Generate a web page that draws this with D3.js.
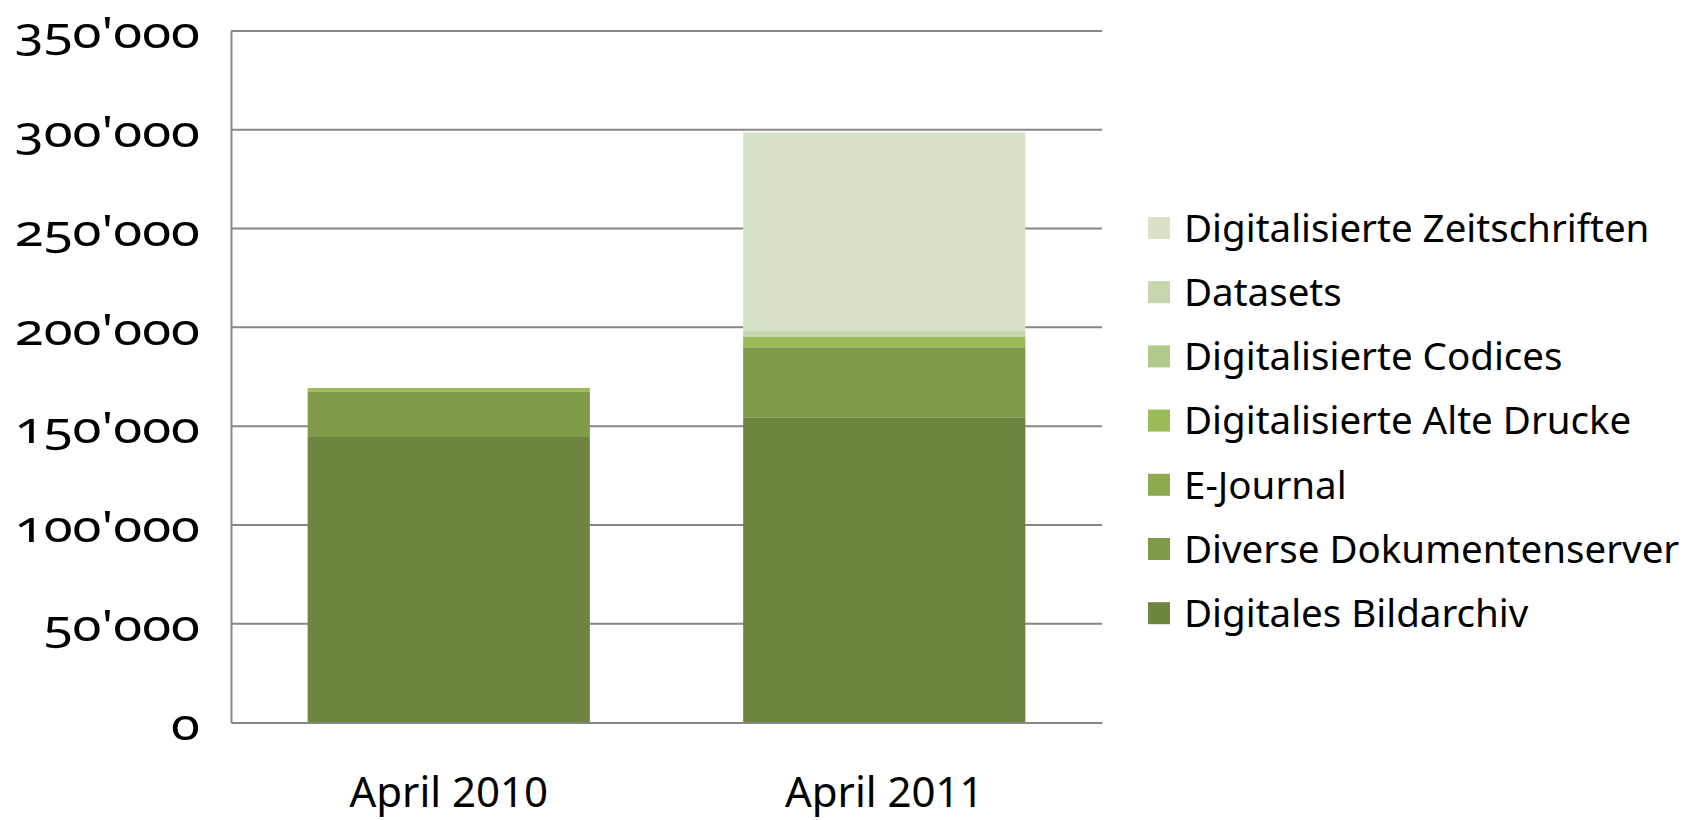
<!DOCTYPE html>
<html>
<head>
<meta charset="utf-8">
<script src="https://cdn.jsdelivr.net/npm/d3@7"></script>
<style>
  html, body { margin: 0; padding: 0; background: #fff; }
  svg text { font-family: "Noto Sans", "Open Sans", sans-serif; fill: #000; }
  .tick-label { font-variant-numeric: oldstyle-nums; }
</style>
</head>
<body>
<div id="chart"></div>
<script>
// Bestand digitaler Objekte, April 2010 vs. April 2011

const categories = ['April 2010', 'April 2011'];

// stack order from bottom to top
const seriesNames = [
  'Digitales Bildarchiv',
  'Diverse Dokumentenserver',
  'E-Journal',
  'Digitalisierte Alte Drucke',
  'Digitalisierte Codices',
  'Datasets',
  'Digitalisierte Zeitschriften'
];

const bildarchiv    = [144500, 154200];
const diverse       = [23100, 35400];
const eJournal      = [0, 400];
const alteDrucke    = [1700, 5300];
const codices       = [0, 500];
const datasets      = [0, 2400];
const zeitschriften = [0, 100500];

const seriesValues = [bildarchiv, diverse, eJournal, alteDrucke, codices, datasets, zeitschriften];

const seriesColors = ['#6e8540', '#7f9a4a', '#8eaa50', '#9bbb59', '#b1c98d', '#c6d5ac', '#d8e2c6'];

const yTicks = [0, 50000, 100000, 150000, 200000, 250000, 300000, 350000];

function renderChart() {
  const width = 1692;
  const height = 820;
  const margin = { top: 31, right: 590, bottom: 97.5, left: 231 };
  const innerWidth = width - margin.left - margin.right;
  const innerHeight = height - margin.top - margin.bottom;

  const svg = d3.select('#chart').append('svg')
    .attr('width', width)
    .attr('height', height)
    .style('display', 'block');

  const rows = categories.map((c, i) => {
    const row = { category: c };
    seriesNames.forEach((s, k) => { row[s] = seriesValues[k][i]; });
    return row;
  });

  const stacked = d3.stack().keys(seriesNames)(rows);

  const x = d3.scaleBand()
    .domain(categories)
    .range([0, innerWidth])
    .paddingInner(0.352)
    .paddingOuter(0.176);

  const y = d3.scaleLinear()
    .domain([0, 350000])
    .range([innerHeight, 0]);

  const color = d3.scaleOrdinal().domain(seriesNames).range(seriesColors);

  const fmt = d3.formatLocale({ decimal: '.', thousands: "'", grouping: [3], currency: ['', ''] }).format(',d');

  const g = svg.append('g').attr('transform', `translate(${margin.left},${margin.top})`);

  // grid lines
  g.append('g')
    .selectAll('line')
    .data(yTicks.filter(d => d > 0))
    .enter()
    .append('line')
    .attr('x1', 0)
    .attr('x2', innerWidth)
    .attr('y1', d => y(d))
    .attr('y2', d => y(d))
    .attr('stroke', '#868686')
    .attr('stroke-width', 2);

  // bars
  g.selectAll('.layer')
    .data(stacked)
    .enter()
    .append('g')
    .attr('class', 'layer')
    .attr('fill', d => color(d.key))
    .selectAll('rect')
    .data(d => d)
    .enter()
    .append('rect')
    .attr('x', d => x(d.data.category))
    .attr('y', d => y(d[1]))
    .attr('width', x.bandwidth())
    .attr('height', d => y(d[0]) - y(d[1]));

  // axis lines
  const yAxis = g.append('g')
    .call(d3.axisLeft(y).tickValues(yTicks).tickSize(0).tickPadding(31).tickFormat(fmt));
  yAxis.select('.domain').attr('stroke', '#868686').attr('stroke-width', 2);
  yAxis.selectAll('text')
    .attr('class', 'tick-label')
    .style('font-size', '44px')
    .attr('dy', '0.38em')
    .each(function() {
      // the original face is wider than Noto Sans
      const len = this.getComputedTextLength();
      d3.select(this)
        .attr('textLength', len * 1.2)
        .attr('lengthAdjust', 'spacingAndGlyphs');
    });

  const xAxis = g.append('g')
    .attr('transform', `translate(0,${innerHeight})`)
    .call(d3.axisBottom(x).tickSize(0).tickPadding(55));
  xAxis.select('.domain').attr('stroke', '#868686').attr('stroke-width', 2);
  xAxis.selectAll('text')
    .style('font-size', '42px');

  // legend
  const legendItems = seriesNames.slice().reverse();
  const legend = svg.append('g').attr('transform', 'translate(1148,217)');
  const item = legend.selectAll('.item')
    .data(legendItems)
    .enter()
    .append('g')
    .attr('class', 'item')
    .attr('transform', (d, i) => `translate(0,${i * 64.2})`);

  item.append('rect')
    .attr('width', 22)
    .attr('height', 22)
    .attr('fill', d => color(d));

  item.append('text')
    .attr('x', 36)
    .attr('y', 11)
    .attr('dy', '0.36em')
    .style('font-size', '38.5px')
    .text(d => d);
}

renderChart();
</script>
</body>
</html>
